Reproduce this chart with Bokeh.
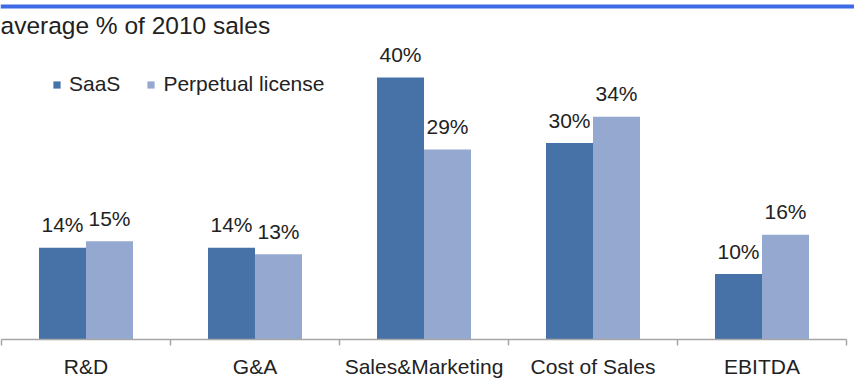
import numpy as np
from bokeh.plotting import figure
from bokeh.models import (ColumnDataSource, Range1d, FixedTicker, Legend, LegendItem,
                          Span, Label)
from bokeh.embed import file_html
from bokeh.resources import INLINE

# --- data -------------------------------------------------------------------
categories = ["R&D", "G&A", "Sales&Marketing", "Cost of Sales", "EBITDA"]
saas = [14, 14, 40, 30, 10]
perpetual = [15, 13, 29, 34, 16]
series_names = ["SaaS", "Perpetual license"]
subtitle = "average % of 2010 sales"

# --- styling / layout -------------------------------------------------------
W, H = 854, 389
FRAME_H = 339            # plot frame height (axis baseline in pixels from top)
PX_PER_CAT = 169         # pixel width of one category slot
PX_PER_PCT = 6.55        # vertical pixels per percentage point
AXIS_X0 = 1              # pixel where the category axis starts
BAR_W = 47 / PX_PER_CAT  # each bar's width in category units
FONT = "Liberation Sans"
TEXT = "#222222"
C_SAAS = "#4672a8"
C_PERP = "#94a8d0"
AXIS_C = "#a6a6a6"

def py_to_y(py):
    """Convert a pixel row (from top) into a data y value."""
    return (FRAME_H - py) / PX_PER_PCT

n = len(categories)
centers = np.arange(n) + 0.5

src = ColumnDataSource(dict(
    x_saas=centers - BAR_W / 2,
    x_perp=centers + BAR_W / 2,
    saas=saas,
    perp=perpetual,
    saas_lbl=[f"{v}%" for v in saas],
    perp_lbl=[f"{v}%" for v in perpetual],
))

p = figure(width=W, height=H, output_backend="svg", toolbar_location=None,
           x_range=Range1d(-AXIS_X0 / PX_PER_CAT, (W - AXIS_X0) / PX_PER_CAT),
           y_range=Range1d(0, FRAME_H / PX_PER_PCT),
           min_border_left=0, min_border_right=0, min_border_top=0,
           min_border_bottom=H - FRAME_H, y_axis_location=None)
p.outline_line_color = None
p.xgrid.visible = False
p.ygrid.visible = False
p.background_fill_color = "white"
p.border_fill_color = "white"

r_saas = p.vbar(x="x_saas", top="saas", width=BAR_W, source=src,
                fill_color=C_SAAS, line_color=None)
r_perp = p.vbar(x="x_perp", top="perp", width=BAR_W, source=src,
                fill_color=C_PERP, line_color=None)

for xf, yf, lf in (("x_saas", "saas", "saas_lbl"), ("x_perp", "perp", "perp_lbl")):
    p.text(x=xf, y=yf, text=lf, source=src, text_align="center",
           text_baseline="alphabetic", y_offset=-23, text_font_size="21px",
           text_font={"value": FONT}, text_color=TEXT)

# category axis: labels centred in each slot, tick marks at slot boundaries
ax = p.xaxis[0]
ax.ticker = FixedTicker(ticks=list(centers), minor_ticks=list(range(n + 1)))
ax.major_label_overrides = {float(c): cat for c, cat in zip(centers, categories)}
ax.bounds = (0, n)
ax.axis_line_color = AXIS_C
ax.axis_line_width = 1.5
ax.major_tick_line_color = None
ax.major_tick_out = 0
ax.major_tick_in = 0
ax.minor_tick_line_color = AXIS_C
ax.minor_tick_line_width = 1.5
ax.minor_tick_out = 6
ax.minor_tick_in = 0
ax.major_label_standoff = 9
ax.major_label_text_font = FONT
ax.major_label_text_font_size = "21px"
ax.major_label_text_color = TEXT

# header rule and subtitle
p.add_layout(Span(location=py_to_y(6), dimension="width",
                  line_color="#3d6be6", line_width=4))
p.add_layout(Label(x=-AXIS_X0 / PX_PER_CAT, y=py_to_y(25), text=subtitle,
                   text_font=FONT, text_font_size="24.5px", text_color=TEXT,
                   text_baseline="alphabetic"))

legend = Legend(items=[LegendItem(label=series_names[0], renderers=[r_saas]),
                       LegendItem(label=series_names[1], renderers=[r_perp])],
                orientation="horizontal", location=(52, FRAME_H - 96),
                glyph_width=9, glyph_height=9, label_standoff=8, spacing=26,
                label_text_font=FONT, label_text_font_size="21px",
                label_text_color=TEXT, border_line_color=None,
                background_fill_alpha=0, padding=6, margin=0)
p.add_layout(legend)

open("out.html", "w").write(file_html(p, INLINE))
